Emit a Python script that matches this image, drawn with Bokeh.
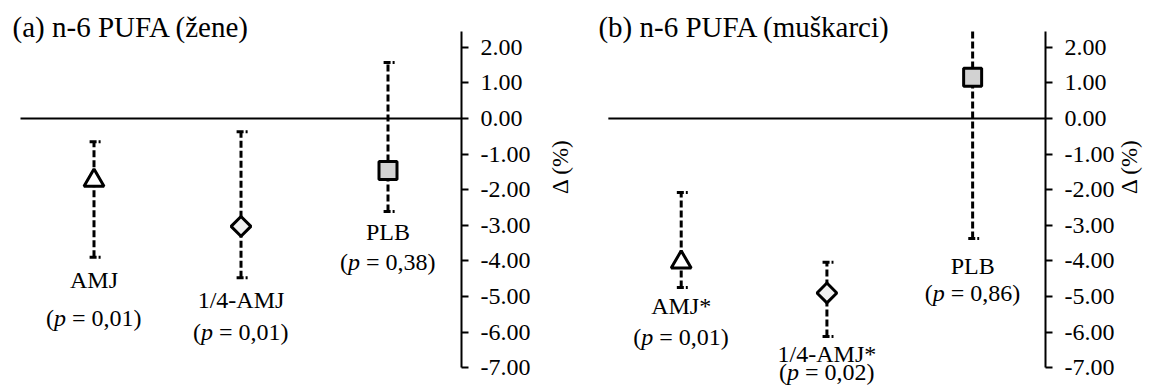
import math
from bokeh.plotting import figure
from bokeh.layouts import row
from bokeh.models import ColumnDataSource, FixedTicker, NumeralTickFormatter, Range1d
from bokeh.core.properties import value
from bokeh.embed import file_html
from bokeh.resources import INLINE

# ---------------- data ----------------
groups_a = ["AMJ", "1/4-AMJ", "PLB"]
mean_a = [-1.74, -3.03, -1.46]
low_a = [-3.90, -4.47, -2.61]
high_a = [-0.65, -0.37, 1.57]
pval_a = ["0,01", "0,01", "0,38"]

groups_b = ["AMJ*", "1/4-AMJ*", "PLB"]
mean_b = [-4.04, -4.90, 1.16]
low_b = [-4.75, -6.12, -3.37]
high_b = [-2.08, -4.04, 2.80]
pval_b = ["0,01", "0,02", "0,86"]

markers = ["triangle", "diamond", "square"]
yticks = [-7, -6, -5, -4, -3, -2, -1, 0, 1, 2]

# ---------------- layout (positions only) ----------------
label_y_a = [-4.55, -5.11, -3.20]
pline_y_a = [-5.59, -6.01, -4.02]
label_y_b = [-5.28, -6.62, -4.13]
pline_y_b = [-6.15, -7.12, -4.89]

FONT = value("Liberation Serif")
FS = value("24px")
AXIS_TOP = 2.45
CLIP_TOP = 2.53


def panel(title, groups, mean, low, high, pvals, label_y, pline_y,
          width, x_start, border_right, label_standoff, title_x):
    p = figure(width=width, height=387, output_backend="svg", toolbar_location=None,
               x_range=Range1d(x_start, 3.0), y_range=Range1d(-7.556, 3.315),
               x_axis_location=None, y_axis_location="right",
               min_border_left=0, min_border_top=0, min_border_bottom=0,
               min_border_right=border_right)
    p.outline_line_color = None
    p.grid.visible = False
    p.background_fill_color = "white"
    p.border_fill_color = "white"

    ax = p.yaxis[0]
    ax.ticker = FixedTicker(ticks=yticks)
    ax.formatter = NumeralTickFormatter(format="0.00")
    ax.bounds = (-7, AXIS_TOP)
    ax.axis_line_width = 2
    ax.axis_line_color = "black"
    ax.major_tick_line_width = 2
    ax.major_tick_line_color = "black"
    ax.major_tick_in = 0
    ax.major_tick_out = 7
    ax.minor_tick_line_color = None
    ax.major_label_standoff = 12
    ax.major_label_text_font = "Liberation Serif"
    ax.major_label_text_font_size = "24px"
    ax.major_label_text_color = "black"
    ax.axis_label = "Δ (%)"
    ax.axis_label_text_font = "Liberation Serif"
    ax.axis_label_text_font_size = "23px"
    ax.axis_label_text_font_style = "normal"
    ax.axis_label_text_color = "black"
    ax.axis_label_standoff = label_standoff
    ax.axis_label_orientation = math.pi / 2

    xs = [i + 0.5 for i in range(len(groups))]

    # zero line
    p.segment(x0=[0], y0=[0], x1=[3], y1=[0], line_color="black", line_width=2)

    # error bars
    top = [min(h, CLIP_TOP) for h in high]
    p.segment(x0=xs, y0=low, x1=xs, y1=top, line_color="black", line_width=3,
              line_dash="7 3")
    cap_x, cap_y = [], []
    for x, lo, hi in zip(xs, low, high):
        cap_x.append(x); cap_y.append(lo)
        if hi <= AXIS_TOP:
            cap_x.append(x); cap_y.append(hi)
    p.segment(x0=[x - 0.03 for x in cap_x], y0=cap_y,
              x1=[x + 0.045 for x in cap_x], y1=cap_y,
              line_color="black", line_width=3, line_dash="7 2")

    # markers
    for x, m, mk in zip(xs, mean, markers):
        if mk == "triangle":
            p.scatter([x], [m], marker="triangle", size=20, fill_color="white",
                      line_color="black", line_width=3)
        elif mk == "diamond":
            p.scatter([x], [m], marker="square", angle=math.pi / 4, size=14,
                      fill_color="#f2f2f2", line_color="black", line_width=3)
        else:
            p.scatter([x], [m], marker="square", size=18, fill_color="#d2d2d2",
                      line_color="black", line_width=3)

    # group labels
    src = ColumnDataSource(dict(x=xs, y=label_y, t=groups))
    p.text(x="x", y="y", text="t", source=src, text_font=FONT, text_font_size=FS,
           text_align="center", text_baseline="middle", text_color="black")

    # (p = ...) lines, with italic p
    pl = ColumnDataSource(dict(x=xs, y=pline_y, t=["= " + v + ")" for v in pvals],
                               o=["(" for _ in xs], pp=["p" for _ in xs]))
    p.text(x="x", y="y", text="o", source=pl, x_offset=-48, text_font=FONT,
           text_font_size=FS, text_align="left", text_baseline="middle", text_color="black")
    p.text(x="x", y="y", text="pp", source=pl, x_offset=-40, text_font=FONT,
           text_font_size=FS, text_font_style="italic", text_align="left",
           text_baseline="middle", text_color="black")
    p.text(x="x", y="y", text="t", source=pl, x_offset=-22, text_font=FONT,
           text_font_size=FS, text_align="left", text_baseline="middle", text_color="black")

    # panel title
    p.text(x=[title_x], y=[2.56], text=[title], text_font=FONT,
           text_font_size=value("29px"), text_align="left", text_baseline="middle",
           text_color="black")
    return p


pa = panel("(a) n-6 PUFA  (žene)", groups_a, mean_a, low_a, high_a, pval_a,
           label_y_a, pline_y_a, width=590, x_start=-20 / 147, border_right=129,
           label_standoff=27, title_x=-0.054)
pb = panel("(b) n-6 PUFA (muškarci)", groups_b, mean_b, low_b, high_b, pval_b,
           label_y_b, pline_y_b, width=567, x_start=-18 / 147, border_right=108,
           label_standoff=12, title_x=-0.068)

layout = row(pa, pb)
open("out.html", "w").write(file_html(layout, INLINE))
